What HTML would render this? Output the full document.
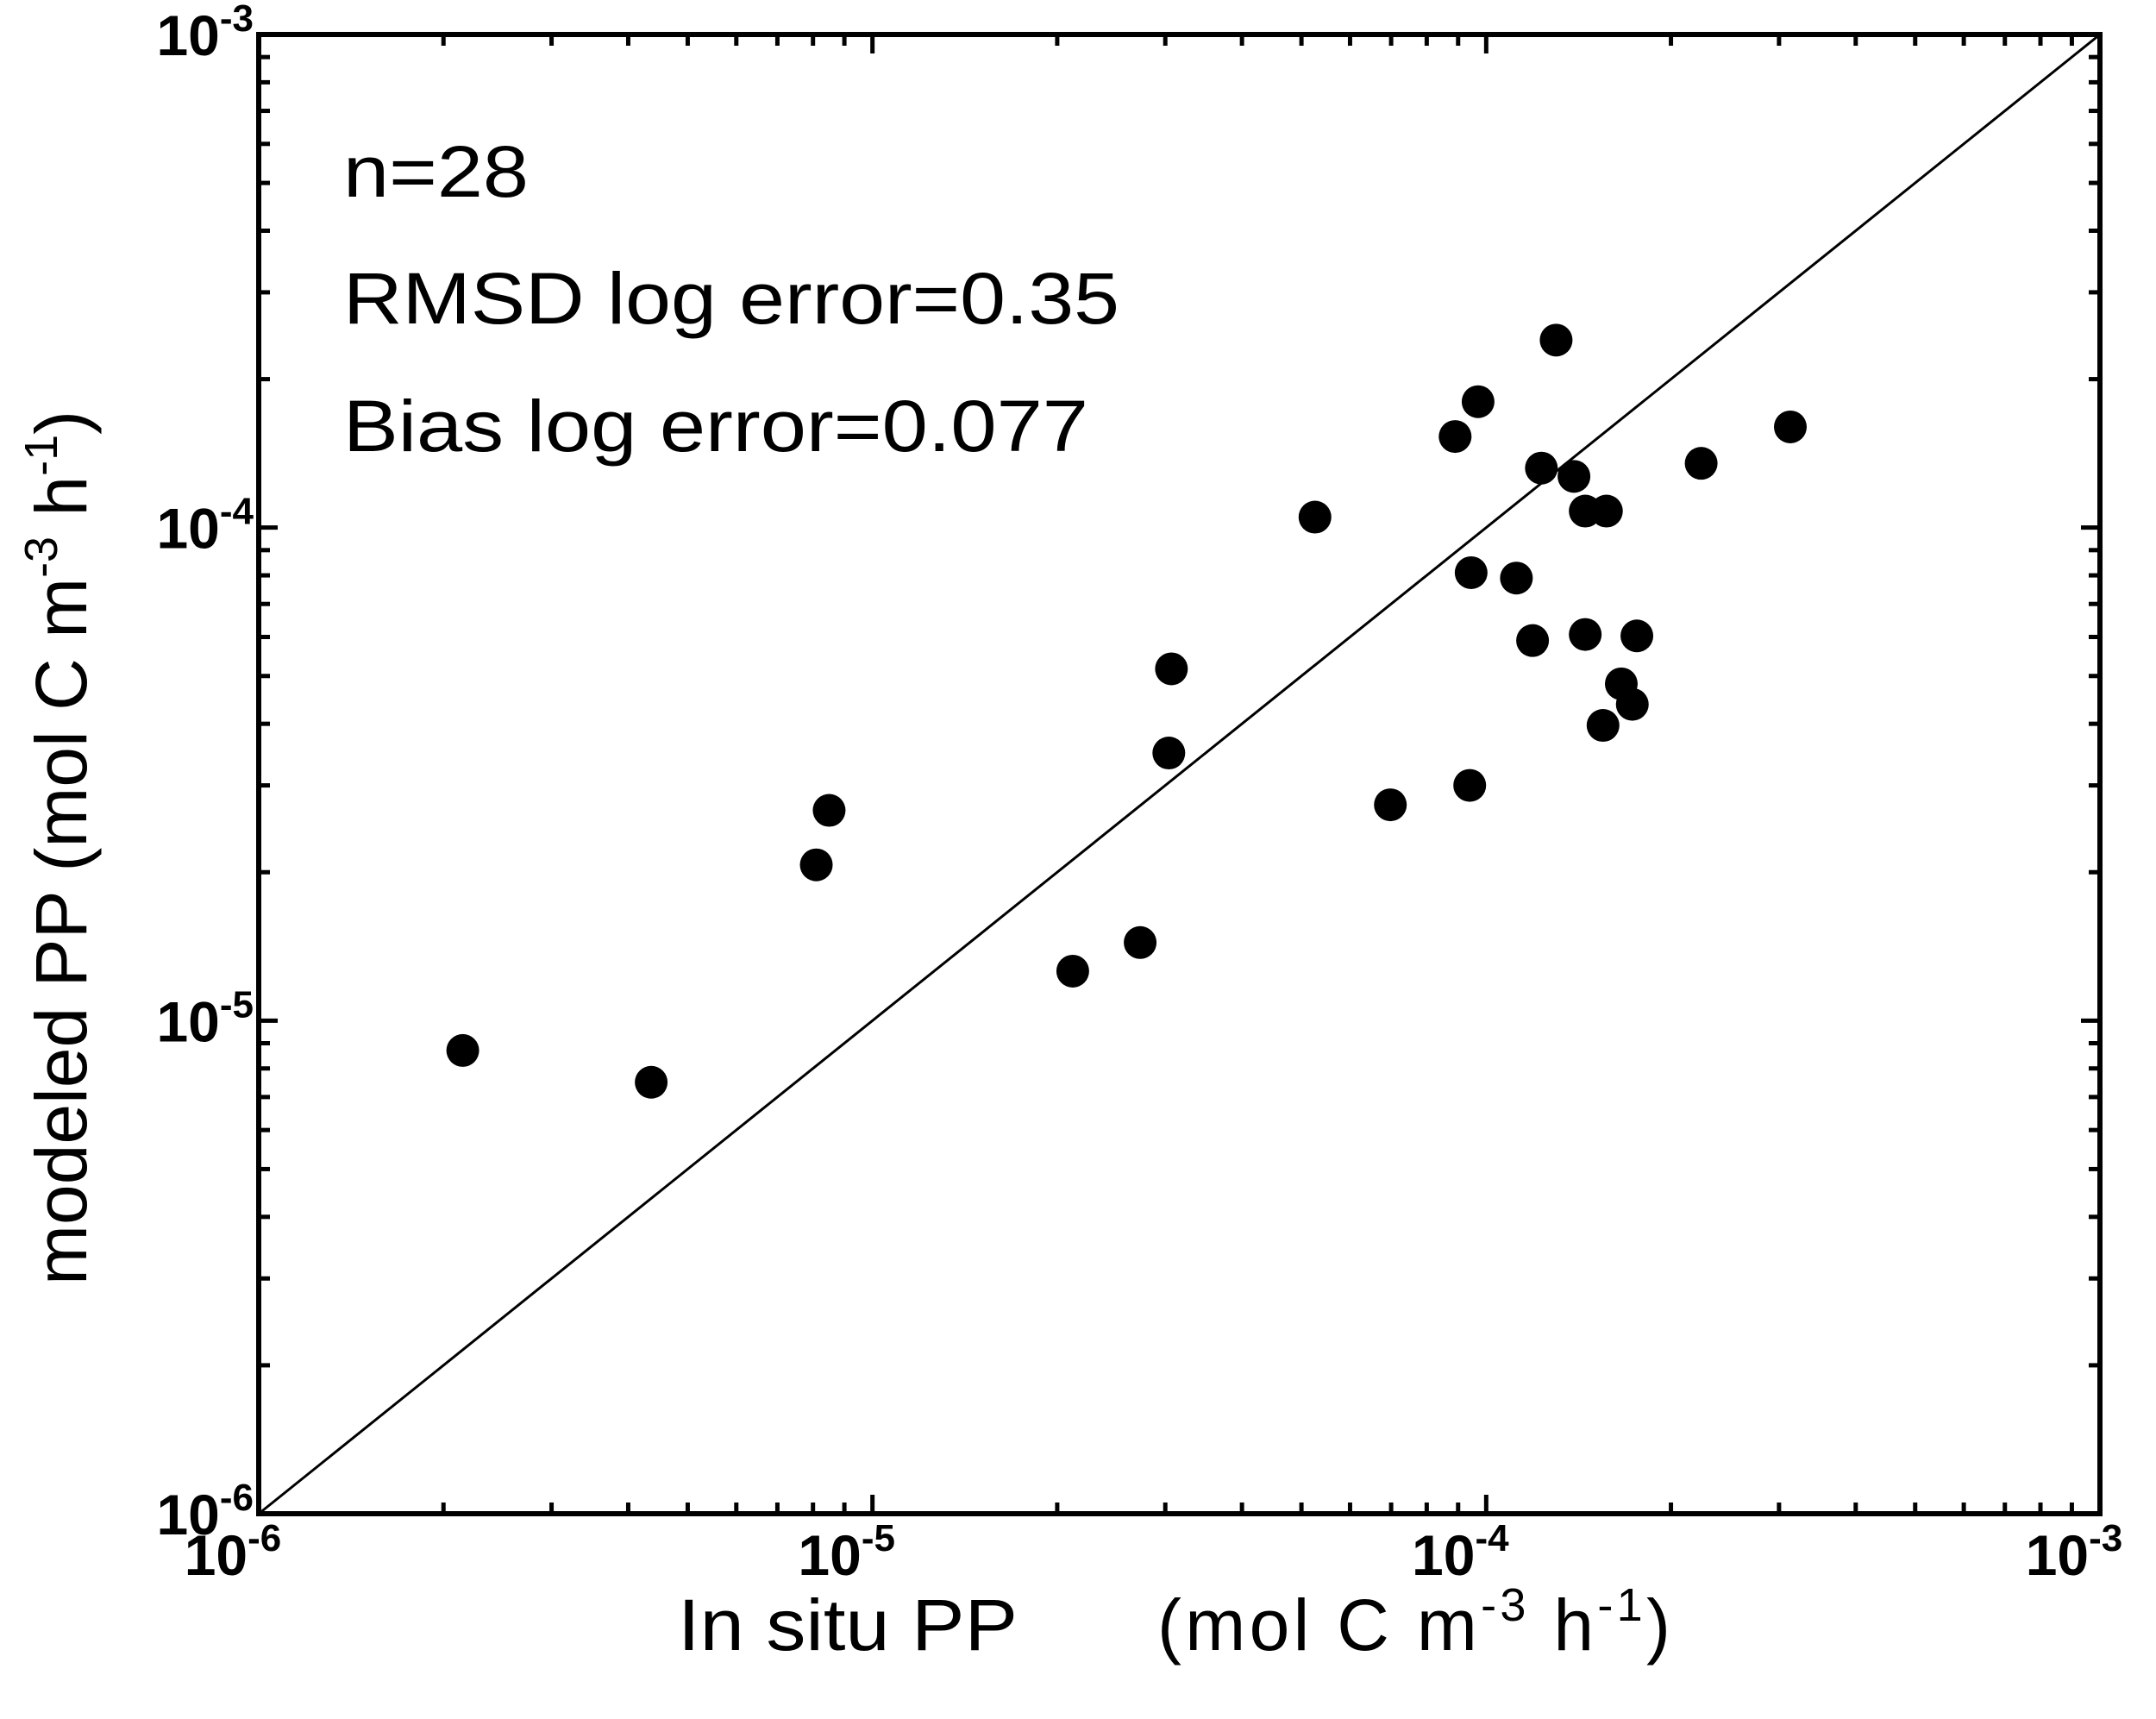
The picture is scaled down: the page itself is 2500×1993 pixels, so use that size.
<!DOCTYPE html>
<html><head><meta charset="utf-8"><style>
html,body{margin:0;padding:0;background:#fff;}
svg{display:block;}
text{font-family:"Liberation Sans","DejaVu Sans",sans-serif;fill:#000;}
</style></head><body>
<svg id="chart" width="2500" height="1993" viewBox="0 0 2500 1993" xmlns="http://www.w3.org/2000/svg">
<g id="marks"></g>
<g id="axes"></g>
<text x="398" y="228" font-size="84" textLength="215" lengthAdjust="spacingAndGlyphs">n=28</text>
<text x="398" y="375" font-size="84" textLength="900" lengthAdjust="spacingAndGlyphs">RMSD log error=0.35</text>
<text x="398" y="523" font-size="84" textLength="864" lengthAdjust="spacingAndGlyphs">Bias log error=0.077</text>
<text x="786" y="1913" font-size="84" textLength="394" lengthAdjust="spacingAndGlyphs">In situ  PP</text>
<text x="1342" y="1913" font-size="84" textLength="595" lengthAdjust="spacing">(mol C m<tspan dy="-34" font-size="54">-3</tspan><tspan dy="34"> h</tspan><tspan dy="-34" font-size="54">-1</tspan><tspan dy="34">)</tspan></text>
<text transform="translate(100,1490) rotate(-90)" x="0" y="0" font-size="84">modeled  PP  (mol C m<tspan dy="-34" font-size="54">-3</tspan><tspan dy="34"> h</tspan><tspan dy="-34" font-size="54">-1</tspan><tspan dy="34">)</tspan></text>
</svg>
<script>
const xValues=[2.15e-6,4.36e-6,8.1e-6,8.5e-6,2.12e-5,2.73e-5,3.04e-5,3.07e-5,5.26e-5,6.98e-5,8.9e-5,9.7e-5,9.4e-5,9.45e-5,1.12e-4,1.19e-4,1.23e-4,1.30e-4,1.39e-4,1.45e-4,1.45e-4,1.57e-4,1.55e-4,1.66e-4,1.73e-4,1.76e-4,2.24e-4,3.13e-4];
const yValues=[8.7e-6,7.5e-6,2.07e-5,2.67e-5,1.26e-5,1.44e-5,3.49e-5,5.17e-5,1.05e-4,2.74e-5,1.53e-4,1.80e-4,3.0e-5,8.1e-5,7.9e-5,5.9e-5,1.32e-4,2.40e-4,1.27e-4,1.08e-4,6.07e-5,1.08e-4,3.97e-5,4.82e-5,4.38e-5,6.03e-5,1.35e-4,1.60e-4];
const decadeExps=[-6,-5,-4,-3];
const NS="http://www.w3.org/2000/svg";
const L=300,R=2435,T=40,B=1755;
const xMin=-6,xMax=-3,yMin=-6,yMax=-3;
function sx(v){return L+(Math.log10(v)-xMin)/(xMax-xMin)*(R-L);}
function sy(v){return B-(Math.log10(v)-yMin)/(yMax-yMin)*(B-T);}
function mk(tag,attrs,parent){const e=document.createElementNS(NS,tag);for(const k in attrs)e.setAttribute(k,attrs[k]);parent.appendChild(e);return e;}
const marks=document.getElementById('marks');
const axes=document.getElementById('axes');
const one=mk('line',{x1:sx(1e-6),y1:sy(1e-6),x2:sx(1e-3),y2:sy(1e-3),stroke:'#000','stroke-width':3},marks);


for(let i=0;i<xValues.length;i++){
  const c=mk('circle',{cx:sx(xValues[i]),cy:sy(yValues[i]),r:19,fill:'#000'},marks);
  
  
}
const fr=mk('rect',{x:L,y:T,width:R-L,height:B-T,fill:'none',stroke:'#000','stroke-width':6},axes);


for(let d=-6;d<=-3;d++){
  for(let m=1;m<=9;m++){
    if(d===-3&&m>1)break;
    const v=m*Math.pow(10,d);
    const len=(m===1)?22:13;
    const X=sx(v),Y=sy(v);
    [[X,B,X,B-len],[X,T,X,T+len],[L,Y,L+len,Y],[R,Y,R-len,Y]].forEach(p=>{
      const t=mk('line',{x1:p[0],y1:p[1],x2:p[2],y2:p[3],stroke:'#000','stroke-width':5},axes);
      
      
    });
  }
}
decadeExps.forEach(e=>{
  const v=Math.pow(10,e);
  const tx=mk('text',{x:sx(v)-30,y:1826,'font-size':66,'font-weight':'bold','text-anchor':'middle'},axes);
  tx.innerHTML='10<tspan dy="-28" font-size="44">'+e+'</tspan>';
  
  
  const ty=mk('text',{x:294,y:sy(v)+24,'font-size':66,'font-weight':'bold','text-anchor':'end'},axes);
  ty.innerHTML='10<tspan dy="-28" font-size="44">'+e+'</tspan>';
  
  
});
</script>
</body></html>
